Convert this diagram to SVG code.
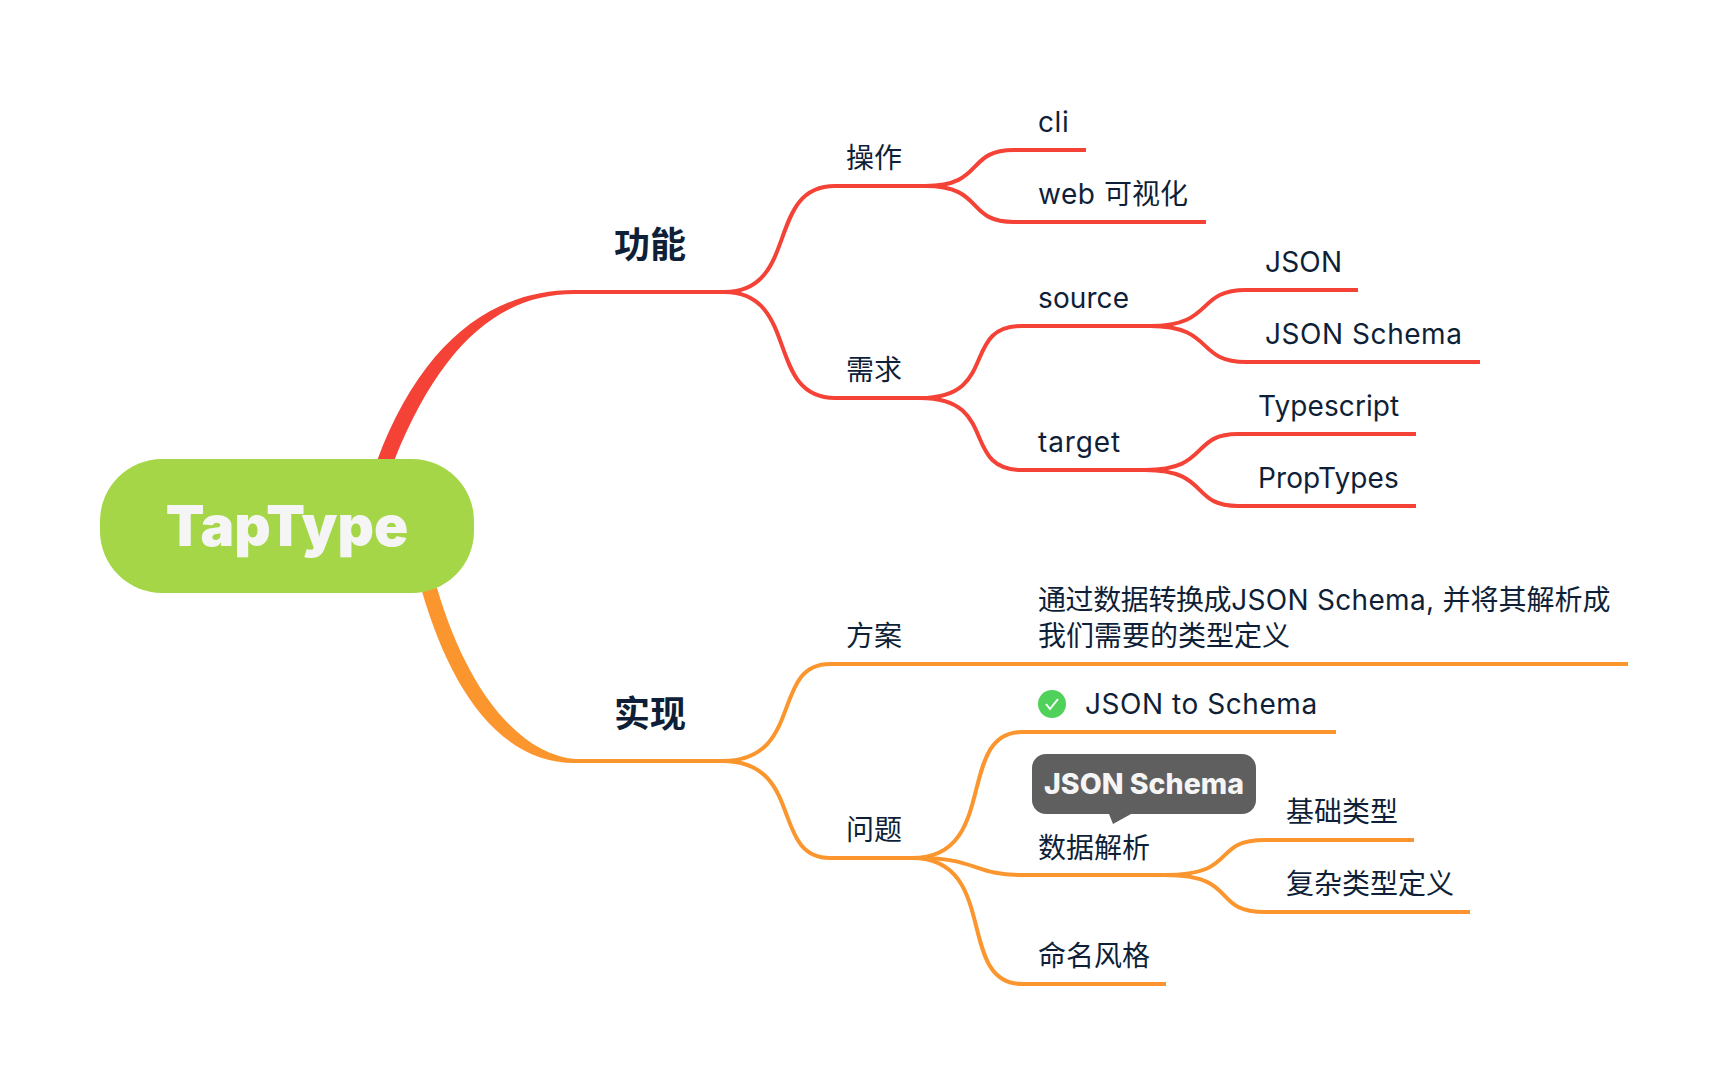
<svg xmlns="http://www.w3.org/2000/svg" width="1728" height="1086" viewBox="0 0 1728 1086">
<style>
text{font-family:"Inter","Noto Sans CJK SC",sans-serif;fill:#0f1f38;font-size:28px;letter-spacing:.55px}
.cjk{font-family:"Noto Sans CJK SC",sans-serif;font-size:28px;letter-spacing:0}
.main{font-family:"Noto Sans CJK SC",sans-serif;font-size:36px;font-weight:700;letter-spacing:0}
.r{fill:none;stroke:#f44336;stroke-width:4}
.o{fill:none;stroke:#fb962f;stroke-width:4}
</style>
<rect width="1728" height="1086" fill="#fff"/>
<g id="connectors">
<path fill="#f44336" d="M377 461C420 345 490 290 574 290L730 290V294H574C500 294 440 345 394 461Z"/>
<path class="r" d="M724 292C800 292 765 186 835 186H925"/>
<path class="r" d="M724 292C800 292 765 398 835 398H925"/>
<path class="r" d="M925 186C985 186 965 150 1014 150H1086"/>
<path class="r" d="M925 186C985 186 965 222 1014 222H1206"/>
<path class="r" d="M920 398C1000 398 960 326 1022 326H1150"/>
<path class="r" d="M920 398C1000 398 960 470 1022 470H1145"/>
<path class="r" d="M1150 326C1215 326 1195 290 1246 290H1358"/>
<path class="r" d="M1150 326C1215 326 1195 362 1246 362H1480"/>
<path class="r" d="M1145 470C1210 470 1190 434 1238 434H1416"/>
<path class="r" d="M1145 470C1210 470 1190 506 1238 506H1416"/>
<path fill="#fb962f" d="M421 588C450 690 500 763 575 763H726V759H575C525 755 470 700 437 588Z"/>
<path class="o" d="M722 761C805 761 770 664 830 664H1628"/>
<path class="o" d="M722 761C805 761 770 858 830 858H923"/>
<path class="o" d="M912 858C1000 858 955 732 1022 732H1336"/>
<path class="o" d="M920 858C975 858 975 875 1020 875H1175"/>
<path class="o" d="M912 858C1000 858 955 984 1022 984H1166"/>
<path class="o" d="M1165 875C1240 875 1210 840 1265 840H1414"/>
<path class="o" d="M1165 875C1240 875 1210 912 1265 912H1470"/>
</g>
<g id="root"><rect x="100" y="459" width="374" height="134" rx="62" fill="#a5d648"/><text x="287" y="546" text-anchor="middle" style="font-size:56.5px;font-weight:900;fill:#f5f5f5;letter-spacing:0">TapType</text></g>
<g id="n-gongneng"><text class="main" x="614" y="258">功能</text></g>
<g id="n-shixian"><text class="main" x="614" y="727">实现</text></g>
<g id="n-caozuo"><text class="cjk" x="846" y="168">操作</text></g>
<g id="n-xuqiu"><text class="cjk" x="846" y="380">需求</text></g>
<g id="n-cli"><text x="1038" y="132">cli</text></g>
<g id="n-web"><text x="1038" y="204">web <tspan class="cjk">可视化</tspan></text></g>
<g id="n-source"><text x="1038" y="308" style="letter-spacing:.1px">source</text></g>
<g id="n-target"><text x="1038" y="452" style="letter-spacing:.9px">target</text></g>
<g id="n-json"><text x="1265" y="272" style="letter-spacing:.2px">JSON</text></g>
<g id="n-jsonschema"><text x="1265" y="344">JSON Schema</text></g>
<g id="n-ts"><text x="1258" y="416" style="letter-spacing:.1px">Typescript</text></g>
<g id="n-prop"><text x="1258" y="488" style="letter-spacing:.1px">PropTypes</text></g>
<g id="n-fangan"><text class="cjk" x="846" y="646">方案</text></g>
<g id="n-wenti"><text class="cjk" x="846" y="840">问题</text></g>
<g id="n-desc"><text x="1038" y="610" style="letter-spacing:.3px"><tspan class="cjk" style="letter-spacing:-.4px">通过数据转换成</tspan>JSON Schema, <tspan class="cjk">并将其解析成</tspan><tspan class="cjk" x="1038" y="646">我们需要的类型定义</tspan></text></g>
<g id="n-j2s"><circle cx="1052" cy="704" r="14" fill="#4fd15a"/><path d="M1046 704l4 5 8-10" fill="none" stroke="#fff" stroke-width="2"/><text x="1085" y="714">JSON to Schema</text></g>
<g id="n-parse"><path fill="#5f5f5f" d="M1046 754H1242a14 14 0 0 1 14 14V800a14 14 0 0 1-14 14H1131L1113 824L1109 814H1046a14 14 0 0 1-14-14V768a14 14 0 0 1 14-14Z"/><text x="1144" y="794" text-anchor="middle" style="font-weight:800;fill:#f5f5f5;font-size:28.5px;letter-spacing:0">JSON Schema</text><text class="cjk" x="1038" y="858">数据解析</text></g>
<g id="n-jichu"><text class="cjk" x="1286" y="822">基础类型</text></g>
<g id="n-fuza"><text class="cjk" x="1286" y="894">复杂类型定义</text></g>
<g id="n-naming"><text class="cjk" x="1038" y="966">命名风格</text></g>
</svg>
